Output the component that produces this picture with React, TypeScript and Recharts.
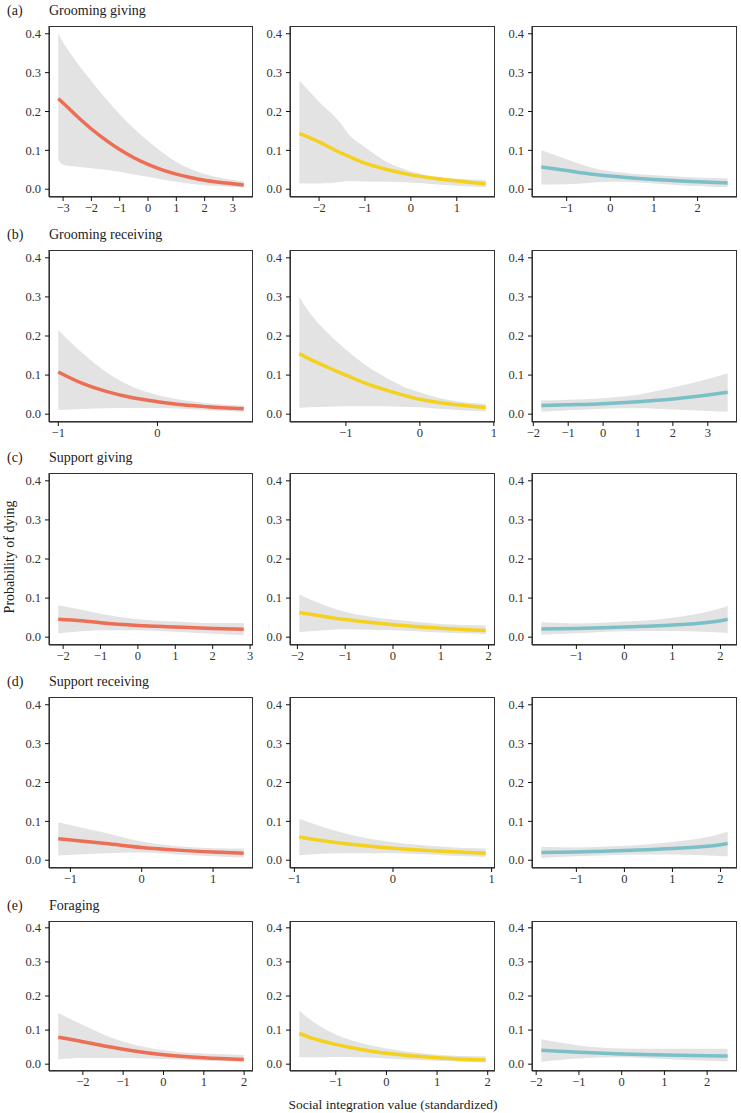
import React from "react";
import { Area, ComposedChart, Line, XAxis, YAxis } from "recharts";

const ROW_LABELS = ["(a)", "(b)", "(c)", "(d)", "(e)"];
const ROW_TITLES = ["Grooming giving", "Grooming receiving", "Support giving", "Support receiving", "Foraging"];
const CLASS_COLOURS = ["#EB6E55", "#F4D11E", "#7BBFC7"];
const Y_TICKS = [0, 0.1, 0.2, 0.3, 0.4];

// (a) grooming giving, one list per column
const groomGivingTicks = [[-3, -2, -1, 0, 1, 2, 3], [-2, -1, 0, 1], [-1, 0, 1, 2]];
const groomGivingX = [
  [-3.17, -3, -2.5, -2, -1.5, -1, -0.5, 0, 0.5, 1, 1.5, 2, 2.5, 3, 3.38],
  [-2.43, -2, -1.5, -1.4, -1, -0.5, 0, 0.5, 1, 1.63],
  [-1.58, -1, -0.5, 0, 0.5, 1, 1.5, 2, 2.69],
];
const groomGivingFit = [
  [0.233, 0.222, 0.187, 0.155, 0.127, 0.102, 0.081, 0.064, 0.05, 0.039, 0.03, 0.023, 0.018, 0.014, 0.011],
  [0.144, 0.122, 0.092, 0.087, 0.067, 0.05, 0.037, 0.028, 0.021, 0.014],
  [0.057, 0.048, 0.04, 0.034, 0.029, 0.025, 0.022, 0.019, 0.016],
];
const groomGivingLo = [
  [0.075, 0.063, 0.058, 0.054, 0.05, 0.045, 0.038, 0.032, 0.025, 0.019, 0.014, 0.01, 0.008, 0.006, 0.005],
  [0.015, 0.015, 0.019, 0.021, 0.02, 0.019, 0.017, 0.013, 0.009, 0.005],
  [0.012, 0.013, 0.016, 0.019, 0.018, 0.015, 0.011, 0.008, 0.005],
];
const groomGivingHi = [
  [0.4, 0.378, 0.325, 0.278, 0.234, 0.193, 0.156, 0.124, 0.095, 0.07, 0.052, 0.039, 0.03, 0.024, 0.021],
  [0.28, 0.225, 0.165, 0.148, 0.108, 0.069, 0.046, 0.033, 0.027, 0.024],
  [0.1, 0.077, 0.058, 0.046, 0.04, 0.036, 0.033, 0.03, 0.028],
];

// (b) grooming receiving
const groomRecvTicks = [[-1, 0], [-1, 0, 1], [-2, -1, 0, 1, 2, 3]];
const groomRecvX = [
  [-1, -0.75, -0.5, -0.25, 0, 0.25, 0.5, 0.87],
  [-1.63, -1.5, -1.25, -1, -0.75, -0.5, -0.25, 0, 0.25, 0.5, 0.89],
  [-1.77, -1, 0, 1, 2, 3, 3.57],
];
const groomRecvFit = [
  [0.108, 0.078, 0.057, 0.042, 0.032, 0.024, 0.019, 0.014],
  [0.155, 0.142, 0.12, 0.1, 0.08, 0.064, 0.05, 0.038, 0.03, 0.024, 0.017],
  [0.022, 0.024, 0.027, 0.032, 0.039, 0.049, 0.056],
];
const groomRecvLo = [
  [0.011, 0.013, 0.015, 0.016, 0.016, 0.014, 0.01, 0.006],
  [0.016, 0.018, 0.019, 0.02, 0.02, 0.02, 0.019, 0.018, 0.014, 0.011, 0.007],
  [0.006, 0.01, 0.014, 0.015, 0.012, 0.008, 0.006],
];
const groomRecvHi = [
  [0.215, 0.155, 0.105, 0.07, 0.049, 0.036, 0.028, 0.022],
  [0.3, 0.262, 0.208, 0.165, 0.128, 0.098, 0.073, 0.056, 0.042, 0.033, 0.026],
  [0.035, 0.037, 0.041, 0.05, 0.068, 0.09, 0.105],
];

// (c) support giving
const supGiveTicks = [[-2, -1, 0, 1, 2, 3], [-2, -1, 0, 1, 2], [-1, 0, 1, 2]];
const supGiveX = [
  [-2.13, -1.5, -1, 0, 1, 2, 2.83],
  [-1.96, -1.5, -1, -0.5, 0, 1, 1.94],
  [-1.73, -1, 0, 1, 2, 2.15],
];
const supGiveFit = [
  [0.046, 0.042, 0.037, 0.03, 0.026, 0.022, 0.02],
  [0.063, 0.054, 0.045, 0.038, 0.032, 0.023, 0.017],
  [0.021, 0.022, 0.026, 0.031, 0.042, 0.046],
];
const supGiveLo = [
  [0.01, 0.015, 0.018, 0.018, 0.014, 0.009, 0.005],
  [0.013, 0.017, 0.02, 0.019, 0.018, 0.012, 0.008],
  [0.006, 0.01, 0.015, 0.016, 0.012, 0.01],
];
const supGiveHi = [
  [0.082, 0.07, 0.06, 0.046, 0.04, 0.036, 0.036],
  [0.109, 0.085, 0.065, 0.053, 0.045, 0.034, 0.03],
  [0.038, 0.035, 0.04, 0.05, 0.074, 0.08],
];

// (d) support receiving
const supRecvTicks = [[-1, 0, 1], [-1, 0, 1], [-1, 0, 1, 2]];
const supRecvX = [
  [-1.17, -0.5, 0, 0.5, 1, 1.43],
  [-0.95, -0.5, 0, 0.5, 0.94],
  [-1.73, -1, 0, 1, 2, 2.15],
];
const supRecvFit = [
  [0.055, 0.043, 0.033, 0.026, 0.021, 0.018],
  [0.06, 0.043, 0.031, 0.023, 0.018],
  [0.02, 0.021, 0.025, 0.03, 0.04, 0.043],
];
const supRecvLo = [
  [0.012, 0.018, 0.02, 0.015, 0.01, 0.007],
  [0.013, 0.018, 0.018, 0.013, 0.008],
  [0.006, 0.01, 0.014, 0.015, 0.011, 0.01],
];
const supRecvHi = [
  [0.098, 0.07, 0.048, 0.036, 0.031, 0.03],
  [0.107, 0.07, 0.046, 0.035, 0.03],
  [0.035, 0.033, 0.037, 0.047, 0.068, 0.074],
];

// (e) foraging
const foragingTicks = [[-2, -1, 0, 1, 2], [-1, 0, 1, 2], [-2, -1, 0, 1, 2]];
const foragingX = [
  [-2.61, -2, -1.5, -1, 0, 1, 1.99],
  [-1.72, -1.5, -1, -0.5, 0, 1, 1.96],
  [-1.88, -1, 0, 1, 2, 2.48],
];
const foragingFit = [
  [0.079, 0.066, 0.054, 0.044, 0.028, 0.019, 0.014],
  [0.09, 0.078, 0.058, 0.043, 0.032, 0.019, 0.012],
  [0.041, 0.035, 0.03, 0.027, 0.025, 0.024],
];
const foragingLo = [
  [0.014, 0.018, 0.018, 0.018, 0.015, 0.01, 0.007],
  [0.02, 0.02, 0.021, 0.02, 0.017, 0.01, 0.005],
  [0.007, 0.017, 0.02, 0.015, 0.01, 0.008],
];
const foragingHi = [
  [0.15, 0.115, 0.088, 0.066, 0.041, 0.031, 0.027],
  [0.157, 0.13, 0.087, 0.062, 0.046, 0.028, 0.023],
  [0.073, 0.055, 0.046, 0.045, 0.045, 0.045],
];

const ROWS = [
  { ticks: groomGivingTicks, x: groomGivingX, fit: groomGivingFit, lo: groomGivingLo, hi: groomGivingHi },
  { ticks: groomRecvTicks, x: groomRecvX, fit: groomRecvFit, lo: groomRecvLo, hi: groomRecvHi },
  { ticks: supGiveTicks, x: supGiveX, fit: supGiveFit, lo: supGiveLo, hi: supGiveHi },
  { ticks: supRecvTicks, x: supRecvX, fit: supRecvFit, lo: supRecvLo, hi: supRecvHi },
  { ticks: foragingTicks, x: foragingX, fit: foragingFit, lo: foragingLo, hi: foragingHi },
];

// layout (plot rectangles)
const COL_LEFT = [49, 290, 532];
const COL_W = [204, 205, 205];
const ROW_TOP = [26, 250, 473, 697, 921];
const ROW_H = [171, 172, 172, 171, 150];
const YW = 44;
const XH = 24;

const FONT = '"Liberation Serif", "DejaVu Serif", serif';
const tickText = { fontFamily: FONT, fontSize: 12.5, fill: "#333" };
const minus = (v: number) => String(v).replace("-", "\u2212");

function XTick(props: any) {
  const { x, y, payload } = props;
  return (
    <text x={x} y={y} dy="0.72em" textAnchor="middle" style={tickText}>
      {minus(payload.value)}
    </text>
  );
}

function YTick(props: any) {
  const { x, y, payload } = props;
  return (
    <text x={x} y={y} dy="0.34em" textAnchor="end" style={tickText}>
      {Number(payload.value).toFixed(1)}
    </text>
  );
}

function Panel({ r, c }: { r: number; c: number }) {
  const row = ROWS[r];
  const xs = row.x[c];
  const data = xs.map((x, i) => ({ x, fit: row.fit[c][i], range: [row.lo[c][i], row.hi[c][i]] }));
  const xmin = xs[0];
  const xmax = xs[xs.length - 1];
  const pad = (xmax - xmin) * 0.05;
  const w = COL_W[c];
  const h = ROW_H[r];

  return (
    <div style={{ position: "absolute", left: COL_LEFT[c] - YW, top: ROW_TOP[r] - 1 }}>
      <ComposedChart width={YW + w + 1} height={h + 1 + XH} data={data} margin={{ top: 1, right: 1, left: 0, bottom: 0 }}>
        <XAxis
          dataKey="x"
          type="number"
          domain={[xmin - pad, xmax + pad]}
          ticks={row.ticks[c]}
          allowDataOverflow
          height={XH}
          tickSize={4}
          tickMargin={2}
          tick={<XTick />}
          stroke="#111"
          interval={0}
        />
        <YAxis
          type="number"
          domain={[-0.02, 0.42]}
          ticks={Y_TICKS}
          allowDataOverflow
          width={YW}
          tickSize={4}
          tickMargin={4}
          tick={<YTick />}
          stroke="#111"
          interval={0}
        />
        <Area
          dataKey="range"
          type="monotone"
          fill="#E3E3E3"
          fillOpacity={1}
          stroke="none"
          isAnimationActive={false}
          activeDot={false}
        />
        <Line
          dataKey="fit"
          type="monotone"
          stroke={CLASS_COLOURS[c]}
          strokeWidth={3.5}
          dot={false}
          activeDot={false}
          isAnimationActive={false}
        />
      </ComposedChart>
      <div
        style={{
          position: "absolute",
          left: YW,
          top: 1,
          width: w,
          height: h,
          border: "1px solid #333",
          boxSizing: "border-box",
          pointerEvents: "none",
        }}
      />
    </div>
  );
}

export default function App() {
  return (
    <div
      style={{
        position: "absolute",
        left: 0,
        top: 0,
        width: 741,
        height: 1113,
        background: "#fff",
        fontFamily: FONT,
        color: "#222",
        overflow: "hidden",
      }}
    >
      {ROW_TOP.map((top, r) => (
        <React.Fragment key={r}>
          <div style={{ position: "absolute", left: 7, top: top - 22, fontSize: 14, lineHeight: "14px" }}>
            {ROW_LABELS[r]}
          </div>
          <div style={{ position: "absolute", left: 49, top: top - 22, fontSize: 14, lineHeight: "14px" }}>
            {ROW_TITLES[r]}
          </div>
          {[0, 1, 2].map((c) => (
            <Panel key={c} r={r} c={c} />
          ))}
        </React.Fragment>
      ))}
      <div
        style={{
          position: "absolute",
          left: 10,
          top: 557,
          fontSize: 14,
          lineHeight: "14px",
          whiteSpace: "nowrap",
          transform: "translate(-50%, -50%) rotate(-90deg)",
        }}
      >
        Probability of dying
      </div>
      <div
        style={{
          position: "absolute",
          left: 393,
          top: 1105,
          fontSize: 13.5,
          lineHeight: "14px",
          whiteSpace: "nowrap",
          transform: "translate(-50%, -50%)",
        }}
      >
        Social integration value (standardized)
      </div>
    </div>
  );
}
